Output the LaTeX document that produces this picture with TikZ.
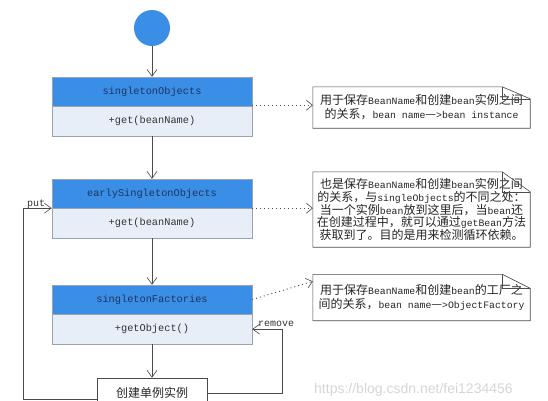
\documentclass[tikz,border=0pt]{standalone}
\usepackage{fontspec}
\setmainfont{Liberation Serif}
\setmonofont{Liberation Mono}
\setsansfont{Liberation Sans}
\newfontfamily\cjk{Noto Sans CJK SC}
\usetikzlibrary{arrows.meta,calc}
\definecolor{hdr}{HTML}{3A8EE6}
\definecolor{bdy}{HTML}{E8EEF8}
\definecolor{bord}{HTML}{9AA3B2}
\definecolor{ln}{HTML}{4A4A4A}
\definecolor{hdrtxt}{HTML}{1E3560}
\newcommand\lat[1]{{\ttfamily\fontsize{9.8}{12}\selectfont #1}}
\begin{document}
\begin{tikzpicture}[x=1pt,y=-1pt,
  hbox/.style={draw=bord,fill=hdr,minimum width=200pt,minimum height=29pt,inner sep=0pt,text=hdrtxt,font=\ttfamily\fontsize{10.3}{12}\selectfont},
  bbox/.style={draw=bord,fill=bdy,minimum width=200pt,minimum height=29.5pt,inner sep=0pt,text=black!80,font=\ttfamily\fontsize{10.3}{12}\selectfont},
  arr/.style={draw=ln,line width=0.6pt,-{Straight Barb[length=7pt,width=10pt]}},
  dotarr/.style={draw=ln,line width=0.9pt,dash pattern=on 1pt off 3pt,-{Straight Barb[length=6pt,width=10pt,line width=0.6pt]}},
  notebox/.style={minimum width=217pt,inner sep=0pt,text=black!85,align=center},
  notebd/.style={draw=black!70,line width=0.6pt},
  lbl/.style={font=\ttfamily\fontsize{10}{12}\selectfont,text=black!80,inner sep=0pt}
]
\clip (0,0) rectangle (548,400);
\fill[white] (0,0) rectangle (548,400);

% start
\node[circle,fill=hdr,minimum size=36pt,inner sep=0pt] (start) at (152,28) {};

% class boxes
\node[hbox] (soh) at (152,91.5) {singletonObjects};
\node[bbox,anchor=north] (sob) at (soh.south) {+get(beanName)};
\node[hbox] (eh) at (152,193.5) {earlySingletonObjects};
\node[bbox,anchor=north] (eb) at (eh.south) {+get(beanName)};
\node[hbox] (fh) at (152,299.5) {singletonFactories};
\node[bbox,anchor=north] (fb) at (fh.south) {+getObject()};

% create box
\node[draw=ln,fill=white,line width=0.6pt,minimum width=110pt,minimum height=30pt,inner sep=0pt,font=\cjk\fontsize{12}{14}\selectfont,text=black!85] (create) at (152,393) {创建单例实例};

% notes
\node[notebox,minimum height=41pt,font=\cjk\fontsize{12}{14}\selectfont] (n1) at (421.5,107.5)
  {用于保存\lat{BeanName}和创建\lat{bean}实例之间\\的关系，\lat{bean name}—\lat{>bean instance}};
\draw[notebd] (n1.north west) -- ([xshift=-28pt]n1.north east) -- ([yshift=-12pt]n1.north east) -- (n1.south east) -- (n1.south west) -- cycle;
\draw[notebd] ([xshift=-28pt]n1.north east) |- ([yshift=-12pt]n1.north east);

\node[notebox,minimum height=75pt,font=\cjk\fontsize{12}{12.6}\selectfont] (n2) at (421.5,209.5)
  {也是保存\lat{BeanName}和创建\lat{bean}实例之间\\的关系，与\lat{singleObjects}的不同之处：\\当一个实例\lat{bean}放到这里后，当\lat{bean}还\\在创建过程中，就可以通过\lat{getBean}方法\\获取到了。目的是用来检测循环依赖。};
\draw[notebd] (n2.north west) -- ([xshift=-28pt]n2.north east) -- ([yshift=-20pt]n2.north east) -- (n2.south east) -- (n2.south west) -- cycle;
\draw[notebd] ([xshift=-28pt]n2.north east) |- ([yshift=-20pt]n2.north east);

\node[notebox,minimum height=46pt,font=\cjk\fontsize{12}{14}\selectfont] (n3) at (421.5,297.5)
  {用于保存\lat{BeanName}和创建\lat{bean}的工厂之\\间的关系，\lat{bean name}—\lat{>ObjectFactory}};
\draw[notebd] (n3.north west) -- ([xshift=-28pt]n3.north east) -- ([yshift=-14pt]n3.north east) -- (n3.south east) -- (n3.south west) -- cycle;
\draw[notebd] ([xshift=-28pt]n3.north east) |- ([yshift=-14pt]n3.north east);

% main flow arrows
\draw[arr] (start) -- (soh);
\draw[arr] (sob) -- (eh);
\draw[arr] (eb) -- (fh);
\draw[arr] (fb) -- (create);

% remove loop
\draw[arr] (create.east) -- ++(75,0) |- (fb.east);
\node[lbl,anchor=base west] (rml) at (258,326) {remove};

% put loop
\coordinate (pc) at (23,399);
\draw[arr] ([yshift=-6pt]create.west) -- (pc) |- (eb.north west);
\node[lbl,anchor=base west] (putl) at (27,206) {put};

% dotted arrows to notes
\coordinate (d1) at ([yshift=1pt]soh.south east);
\draw[dotarr] (d1) -- (d1 -| n1.west);
\draw[dotarr] (eb.north east) -- (eb.north east -| n2.west);
\draw[dotarr] (fh.east) -- ([yshift=-7pt]n3.north west);

% watermark
\node[font=\sffamily\fontsize{14}{16}\selectfont,text=black!16,anchor=west,inner sep=0pt] (wm) at (314,390) {https://blog.csdn.net/fei1234456};
\end{tikzpicture}
\end{document}
